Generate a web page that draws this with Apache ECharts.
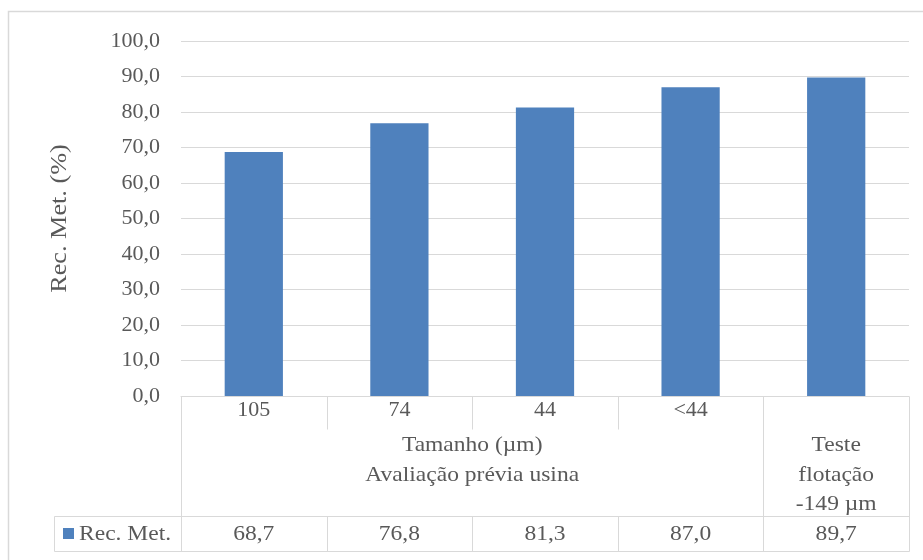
<!DOCTYPE html>
<html>
<head>
<meta charset="utf-8">
<script src="https://cdn.jsdelivr.net/npm/echarts@6/dist/echarts.min.js"></script>
<style>
html,body{margin:0;padding:0;background:#fff;}
#c{width:923px;height:560px;}
</style>
</head>
<body>
<div id="c"></div>
<script>
const categories = ['105', '74', '44', '<44', ''];
const values = [68.7, 76.8, 81.3, 87.0, 89.7];
const seriesName = 'Rec. Met.';
const yTitle = 'Rec. Met. (%)';
const groupLabels = [
  { text: 'Tamanho (µm)\nAvaliação prévia usina', from: 0, to: 3 },
  { text: 'Teste\nflotação\n-149 µm', from: 4, to: 4 }
];
const yMin = 0, yMax = 100, yStep = 10;

const FONT = '"Liberation Serif", "Times New Roman", serif';
const TXT = '#595959';
const LINE = '#d9d9d9';
const BAR = '#4f81bd';
const SX = 1.12;
const fmt = v => v.toFixed(1).replace('.', ',');

const chart = echarts.init(document.getElementById('c'), null, { renderer: 'canvas' });

chart.setOption({
  animation: false,
  backgroundColor: '#fff',
  textStyle: { fontFamily: FONT },
  grid: { left: 181, right: 14, top: 41, bottom: 164, containLabel: false },
  xAxis: {
    type: 'category',
    data: categories,
    axisLine: { show: true, lineStyle: { color: LINE, width: 1 } },
    axisTick: { show: false },
    axisLabel: { show: true, color: TXT, fontFamily: FONT, fontSize: 22, margin: 3, verticalAlign: 'top', interval: 0 }
  },
  yAxis: {
    type: 'value',
    min: yMin, max: yMax, interval: yStep,
    axisLine: { show: false },
    axisTick: { show: false },
    splitLine: { lineStyle: { color: LINE, width: 1 } },
    axisLabel: { color: TXT, fontFamily: FONT, fontSize: 22, margin: 21, formatter: v => fmt(v) }
  },
  series: [{
    name: seriesName,
    type: 'bar',
    data: values,
    barWidth: '40%',
    itemStyle: { color: BAR }
  }]
});

function build() {
  const px = i => chart.convertToPixel({ xAxisIndex: 0 }, i);
  const band = px(1) - px(0);
  const edge = i => px(i) - band / 2;
  const n = categories.length;
  const axisY = chart.convertToPixel({ yAxisIndex: 0 }, yMin);
  const topY = chart.convertToPixel({ yAxisIndex: 0 }, yMax);
  const rowTop = axisY + 120;
  const rowBot = axisY + 155;
  const leftTable = 54;
  const rightEdge = edge(n);
  const els = [];
  const line = (x1, y1, x2, y2) => els.push({
    type: 'line', silent: true,
    shape: { x1: Math.round(x1) + 0.5, y1: Math.round(y1) + 0.5, x2: Math.round(x2) + 0.5, y2: Math.round(y2) + 0.5 },
    style: { stroke: LINE, lineWidth: 1 }
  });
  const text = (str, x, y, align, vAlign, size, extra) => els.push(Object.assign({
    type: 'text', silent: true, x: x, y: y, scaleX: SX,
    style: { text: str, x: 0, y: 0, align: align, verticalAlign: vAlign, font: size + 'px ' + FONT, fill: TXT }
  }, extra || {}));
  els.push({ type: 'rect', silent: true, shape: { x: 8.5, y: 11.5, width: 940, height: 600 }, style: { fill: null, stroke: LINE, lineWidth: 1.5 } });
  const groupEdges = new Set();
  groupLabels.forEach(g => { groupEdges.add(g.from); groupEdges.add(g.to + 1); });
  for (let i = 0; i <= n; i++) {
    const x = edge(i);
    if (groupEdges.has(i)) {
      line(x, axisY, x, rowBot);
    } else {
      line(x, axisY, x, axisY + 33);
      line(x, rowTop, x, rowBot);
    }
  }
  line(leftTable, rowTop, rightEdge, rowTop);
  line(leftTable, rowBot, rightEdge, rowBot);
  line(leftTable, rowTop, leftTable, rowBot);
  groupLabels.forEach(g => {
    const cx = (edge(g.from) + edge(g.to + 1)) / 2;
    els.push({
      type: 'text', silent: true, x: cx, y: axisY + 35, scaleX: SX,
      style: { text: g.text, x: 0, y: 0, align: 'center', verticalAlign: 'top', font: '21px ' + FONT, fill: TXT, lineHeight: 29.5 }
    });
  });
  const rowMid = (rowTop + rowBot) / 2;
  els.push({ type: 'rect', silent: true, shape: { x: 63, y: rowMid - 5.5, width: 11, height: 11 }, style: { fill: BAR } });
  text(seriesName, 79, rowMid + 1, 'left', 'middle', 21);
  values.forEach((v, i) => text(fmt(v), px(i), rowMid + 1, 'center', 'middle', 21));
  els.push({
    type: 'text', silent: true, rotation: Math.PI / 2, x: 60, y: (axisY + topY) / 2, scaleX: 1.14,
    style: { text: yTitle, x: 0, y: 0, align: 'center', verticalAlign: 'middle', font: '23px ' + FONT, fill: TXT }
  });
  chart.setOption({ graphic: { elements: els } });
}
build();
</script>
</body>
</html>
